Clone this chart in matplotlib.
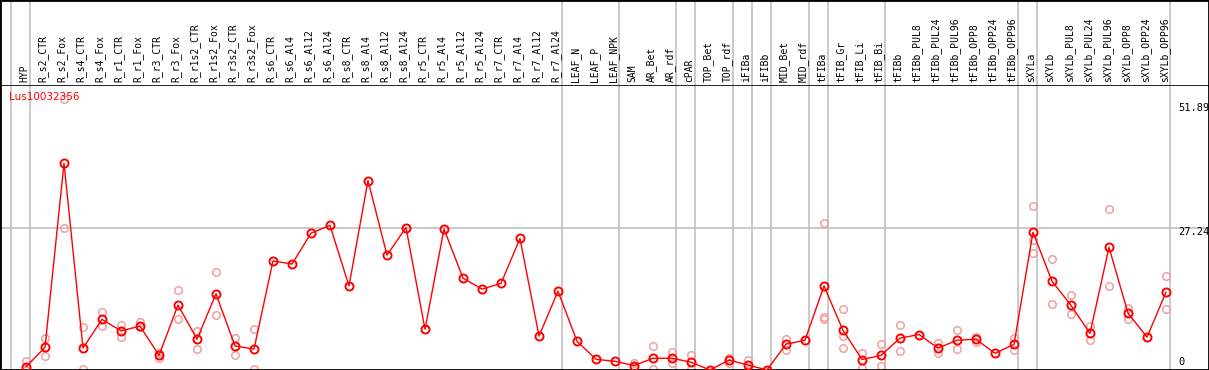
import matplotlib
matplotlib.use("Agg")
import matplotlib.pyplot as plt

# --- data ---
gene = "Lus10032356"

samples = [
    "HYP", "R_s2_CTR", "R_s2_Fox", "R_s4_CTR", "R_s4_Fox", "R_r1_CTR", "R_r1_Fox",
    "R_r3_CTR", "R_r3_Fox", "R_r1s2_CTR", "R_r1s2_Fox", "R_r3s2_CTR", "R_r3s2_Fox",
    "R_s6_CTR", "R_s6_Al4", "R_s6_Al12", "R_s6_Al24", "R_s8_CTR", "R_s8_Al4",
    "R_s8_Al12", "R_s8_Al24", "R_r5_CTR", "R_r5_Al4", "R_r5_Al12", "R_r5_Al24",
    "R_r7_CTR", "R_r7_Al4", "R_r7_Al12", "R_r7_Al24", "LEAF_N", "LEAF_P", "LEAF_NPK",
    "SAM", "AR_Bet", "AR_rdf", "cPAR", "TOP_Bet", "TOP_rdf", "iFIBa", "iFIBb",
    "MID_Bet", "MID_rdf", "tFIBa", "tFIB_Gr", "tFIB_Li", "tFIB_Bi", "tFIBb",
    "tFIBb_PUL8", "tFIBb_PUL24", "tFIBb_PUL96", "tFIBb_OPP8", "tFIBb_OPP24",
    "tFIBb_OPP96", "sXYLa", "sXYLb", "sXYLb_PUL8", "sXYLb_PUL24", "sXYLb_PUL96",
    "sXYLb_OPP8", "sXYLb_OPP24", "sXYLb_OPP96",
]

means = [
    0.6, 4.35, 39.6, 4.2, 9.7, 7.5, 8.4, 2.8, 12.45, 5.9, 14.6, 4.6, 4.0,
    20.9, 20.3, 26.2, 27.7, 16.1, 36.3, 22.0, 27.3, 7.8, 27.0, 17.6, 15.5,
    16.6, 25.2, 6.5, 15.1, 5.5, 2.05, 1.65,
    0.85, 2.25, 2.25, 1.5, 0.0, 1.9, 0.95, 0.0, 4.95, 5.7,
    16.1, 7.6, 2.0, 2.8, 6.1, 6.8, 4.2, 5.7, 5.9, 3.2, 4.9,
    26.4, 17.0, 12.4, 7.0, 23.5, 10.9, 6.3, 14.9,
]

replicates = [
    [1.7, 0.0], [6.1, 2.6], [51.89, 27.3], [8.2, 0.2], [11.1, 8.5], [8.6, 6.3],
    [9.2, 8.2], [3.2, 2.3], [15.3, 9.7], [7.5, 4.1], [18.7, 10.5], [6.1, 2.8],
    [7.8, 0.2],
    [], [], [], [], [], [], [], [], [], [], [], [], [], [], [], [], [], [], [],
    [1.4, 0.5], [4.55, 0.1], [3.4, 1.25], [2.8, 0.1], [], [2.3, 1.3], [2.0, 0.0],
    [], [5.95, 3.75], [],
    [28.2, 10.2, 9.8], [11.7, 6.6, 4.3], [3.3, 0.3], [4.9, 0.8], [8.6, 3.55], [],
    [5.1, 3.2], [7.6, 4.0], [6.4, 5.3], [], [6.1, 3.8],
    [31.4, 25.0, 22.5], [21.3, 12.6], [14.3, 10.7], [8.5, 5.7], [30.8, 16.0],
    [11.8, 9.8], [], [18.1, 11.6],
]

# last sample index of each tissue group (gray separators)
group_ends = [-1, 0, 28, 31, 34, 35, 37, 38, 39, 41, 42, 45, 52, 53, 60]

y_labels = [51.89, 27.24, 0]

# --- layout (pixels of a 1209x370 image) ---
W, H, HEAD = 1209, 370, 85
X0, STEP = 26, 19
xlim = (-X0 / STEP, (W - X0) / STEP)
ytop = 54.6
grid_col = "#c0c0c0"
pink = "#f0a0a0"

fig = plt.figure(figsize=(W / 100, H / 100), dpi=100)
ax = fig.add_axes([0, 0, 1, (H - HEAD) / H])
hd = fig.add_axes([0, (H - HEAD) / H, 1, HEAD / H])

for a in (ax, hd):
    a.set_xlim(*xlim)
    a.set_xticks([])
    a.set_yticks([])
    for s in a.spines.values():
        s.set_color("black")
        s.set_linewidth(2)
    for g in group_ends:
        a.axvline(g + 0.2, color=grid_col, lw=1.2, zorder=0)
hd.set_ylim(0, 1)
hd.spines["bottom"].set_visible(False)
ax.spines["top"].set_linewidth(1.2)
ax.set_ylim(0, ytop)
ax.axhline(27.24, color=grid_col, lw=1.2, zorder=0)

# rotated sample names in the header
for i, name in enumerate(samples):
    hd.text(i - 0.1, 0.03, name, rotation=90, ha="center", va="bottom",
            family="DejaVu Sans Mono", fontsize=7)

# replicates
rx, ry = [], []
for i, reps in enumerate(replicates):
    for v in reps:
        rx.append(i)
        ry.append(v)
ax.plot(rx, ry, ls="none", marker="o", ms=5.4, mfc="none", mec=pink, mew=1.1, zorder=2)

# mean profile
ax.plot(range(len(samples)), means, color="red", lw=1, marker="o", ms=5.8,
        mfc="none", mec="red", mew=1.4, zorder=3)

ax.text(9 / W, 1 - 12 / (H - HEAD), gene, transform=ax.transAxes, color="red",
        fontsize=7.5, ha="left", va="center", family="DejaVu Sans")

offsets = {51.89: -9, 27.24: -4, 0: 8}
for v in y_labels:
    ax.annotate(f"{v:g}", xy=(1, v), xycoords=("axes fraction", "data"),
                xytext=(-31, offsets[v]), textcoords="offset pixels",
                ha="left", va="center", family="DejaVu Sans Mono", fontsize=7.5)

fig.savefig("out.png", dpi=100)
